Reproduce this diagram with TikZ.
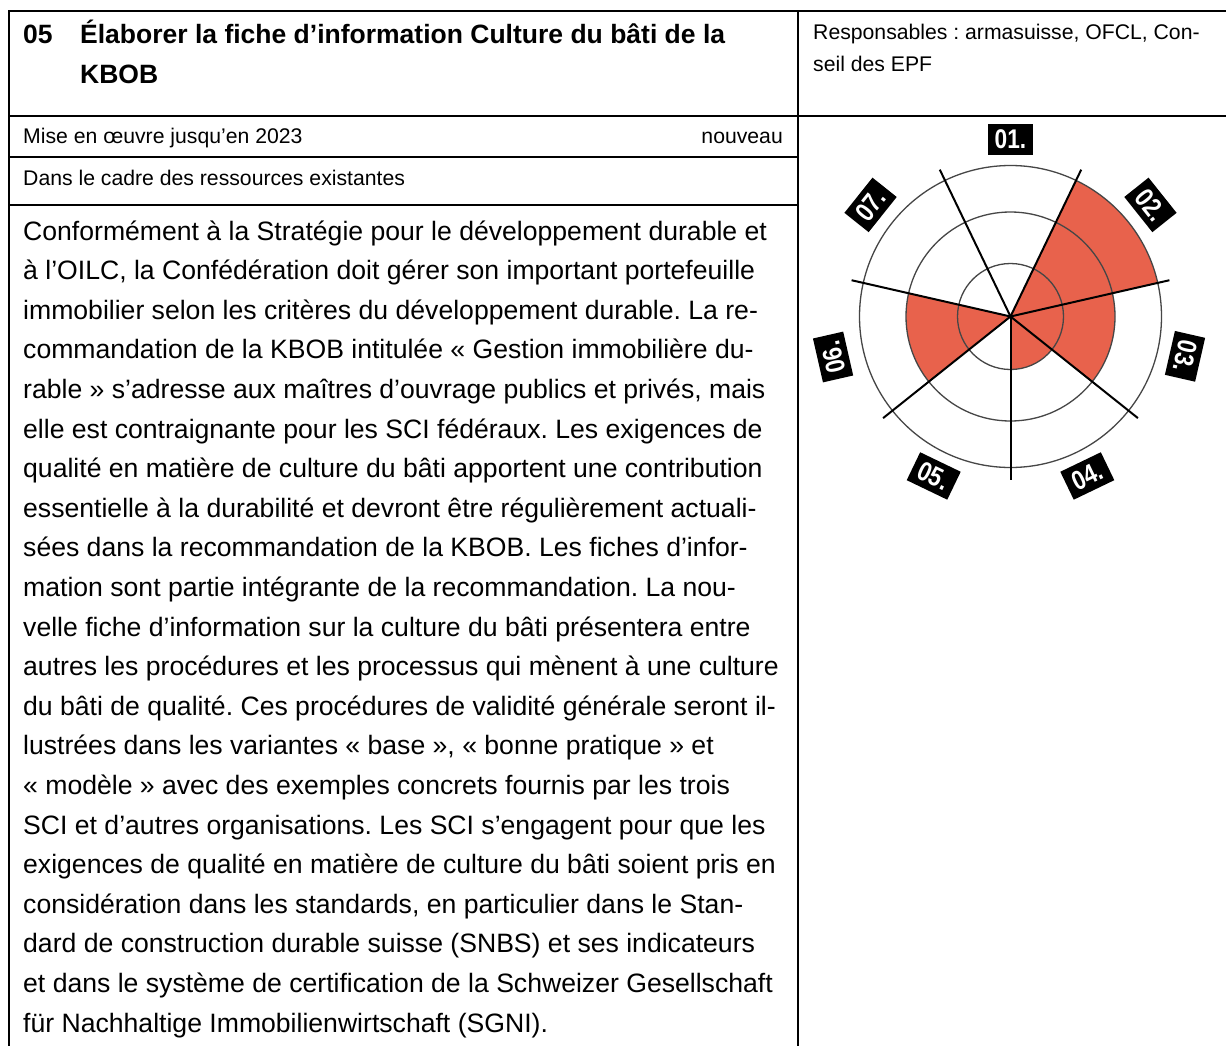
\documentclass[tikz,border=0pt]{standalone}
\usepackage{fontspec}
\setmainfont{Liberation Sans}
\newfontfamily\lblfont[FakeStretch=0.84]{Liberation Sans}
\definecolor{radarred}{RGB}{232,98,76}
\definecolor{ringgray}{RGB}{70,70,70}
\frenchspacing
\begin{document}
\begin{tikzpicture}[x=1pt,y=1pt,
  rule/.style={line width=2pt, line cap=rect},
  body/.style={anchor=base west, inner sep=0pt, font=\fontsize{26.6}{30}\selectfont},
  small/.style={anchor=base west, inner sep=0pt, font=\fontsize{21.2}{26}\selectfont},
  ttl/.style={anchor=base west, inner sep=0pt, font=\fontsize{26.5}{30}\selectfont\bfseries},
  ring/.style={draw=ringgray, line width=1.3pt},
  spoke/.style={draw=black, line width=2pt},
  lbl/.style={fill=black, text=white, font=\lblfont\fontsize{27}{27}\selectfont\bfseries, minimum width=45pt, minimum height=31pt, inner sep=0pt},
]
\useasboundingbox (0,0) rectangle (1226,-1046);
\fill[white] (0,0) rectangle (1226,-1046);

% table rules
\draw[rule] (9,-11) -- (1240,-11);
\draw[rule] (9,-11) -- (9,-1060);
\draw[rule] (797.5,-11) -- (797.5,-1060);
\draw[rule] (9,-116) -- (1240,-116);
\draw[rule] (9,-157) -- (797.5,-157);
\draw[rule] (9,-205) -- (797.5,-205);

% header texts
\node[ttl] (num) at (23,-44) {05};
\node[ttl] (t1) at (80,-44) {Élaborer la fiche d’information Culture du bâti de la};
\node[ttl] (t2) at (80,-84) {KBOB};
\node[small] (resp1) at (813,-40) {Responsables : armasuisse, OFCL, Con-};
\node[small] (resp2) at (813,-72) {seil des EPF};
\node[small] (mise) at (23,-143) {Mise en œuvre jusqu’en 2023};
\node[small, anchor=base east] (nouv) at (783,-143) {nouveau};
\node[small] (cadre) at (23,-185) {Dans le cadre des ressources existantes};

% body
\node[body] (b1) at (23,-240.0) {Conformément à la Stratégie pour le développement durable et};
\node[body] (b2) at (23,-279.6) {à l’OILC, la Confédération doit gérer son important portefeuille};
\node[body] (b3) at (23,-319.2) {immobilier selon les critères du développement durable. La re-};
\node[body] (b4) at (23,-358.8) {commandation de la KBOB intitulée «~Gestion immobilière du-};
\node[body] (b5) at (23,-398.4) {rable~» s’adresse aux maîtres d’ouvrage publics et privés, mais};
\node[body] (b6) at (23,-438.0) {elle est contraignante pour les SCI fédéraux. Les exigences de};
\node[body] (b7) at (23,-477.6) {qualité en matière de culture du bâti apportent une contribution};
\node[body] (b8) at (23,-517.2) {essentielle à la durabilité et devront être régulièrement actuali-};
\node[body] (b9) at (23,-556.8) {sées dans la recommandation de la KBOB. Les fiches d’infor-};
\node[body] (b10) at (23,-596.4) {mation sont partie intégrante de la recommandation. La nou-};
\node[body] (b11) at (23,-636.0) {velle fiche d’information sur la culture du bâti présentera entre};
\node[body] (b12) at (23,-675.6) {autres les procédures et les processus qui mènent à une culture};
\node[body] (b13) at (23,-715.2) {du bâti de qualité. Ces procédures de validité générale seront il-};
\node[body] (b14) at (23,-754.8) {lustrées dans les variantes «~base~», «~bonne pratique~» et};
\node[body] (b15) at (23,-794.4) {«~modèle~» avec des exemples concrets fournis par les trois};
\node[body] (b16) at (23,-834.0) {SCI et d’autres organisations. Les SCI s’engagent pour que les};
\node[body] (b17) at (23,-873.6) {exigences de qualité en matière de culture du bâti soient pris en};
\node[body] (b18) at (23,-913.2) {considération dans les standards, en particulier dans le Stan-};
\node[body] (b19) at (23,-952.8) {dard de construction durable suisse (SNBS) et ses indicateurs};
\node[body] (b20) at (23,-992.4) {et dans le système de certification de la Schweizer Gesellschaft};
\node[body] (b21) at (23,-1032.0) {für Nachhaltige Immobilienwirtschaft (SGNI).};

% radar
\coordinate (C) at (1010.5,-316.5);
\fill[radarred] (C) -- ++(12.857:151) arc[start angle=12.857, end angle=64.286, radius=151] -- cycle;
\fill[radarred] (C) -- ++(-38.571:104.5) arc[start angle=-38.571, end angle=12.857, radius=104.5] -- cycle;
\fill[radarred] (C) -- ++(-90:53) arc[start angle=-90, end angle=-38.571, radius=53] -- cycle;
\fill[radarred] (C) -- ++(167.143:104.5) arc[start angle=167.143, end angle=218.571, radius=104.5] -- cycle;
\draw[ring] (C) circle[radius=53];
\draw[ring] (C) circle[radius=104.5];
\draw[ring] (C) circle[radius=151];
\foreach \a in {-90,-38.571,12.857,64.286,115.714,167.143,218.571}
  \draw[spoke] (C) -- ++(\a:163);
\node[lbl] (l01) at ([shift={(90:177)}]C) {01.};
\node[lbl, rotate=-51.43] (l02) at ([shift={(38.571:179)}]C) {02.};
\node[lbl, rotate=-102.86] (l03) at ([shift={(-12.857:179)}]C) {03.};
\node[lbl, rotate=25.71] (l04) at ([shift={(-64.286:177)}]C) {04.};
\node[lbl, rotate=-25.71] (l05) at ([shift={(-115.714:177)}]C) {05.};
\node[lbl, rotate=102.86] (l06) at ([shift={(192.857:182)}]C) {06.};
\node[lbl, rotate=51.43] (l07) at ([shift={(141.429:179)}]C) {07.};
\end{tikzpicture}
\end{document}
